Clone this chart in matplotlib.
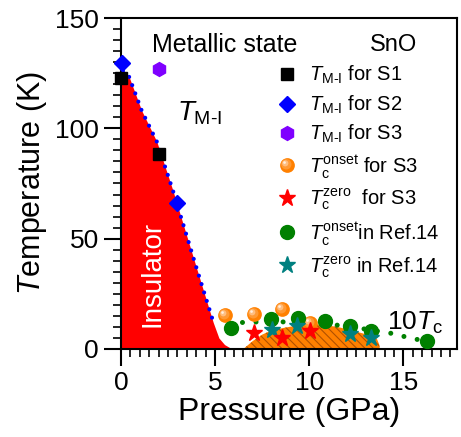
import matplotlib

matplotlib.use("Agg")
import matplotlib.pyplot as plt
from matplotlib.markers import MarkerStyle
from matplotlib.transforms import Affine2D
from matplotlib.legend_handler import HandlerTuple

plt.rcParams["font.family"] = ["Liberation Sans", "DejaVu Sans"]
plt.rcParams["mathtext.fontset"] = "custom"
plt.rcParams["mathtext.rm"] = "Liberation Sans"
plt.rcParams["mathtext.it"] = "Liberation Sans:italic"
plt.rcParams["hatch.linewidth"] = 0.8

# T_M-I (metal-insulator) points
s1_p = [0.0, 2.0]
s1_t = [122.6, 88.5]
s2_p = [0.04, 3.0]
s2_t = [129.7, 66.2]
s3_p = [2.0]
s3_t = [126.7]

# superconducting Tc points
onset_s3_p = [5.53, 7.04, 8.55, 10.05]
onset_s3_t = [15.5, 16.0, 18.0, 12.0]
zero_s3_p = [7.04, 8.55, 10.05]
zero_s3_t = [7.4, 5.1, 8.2]
onset_ref_p = [5.83, 7.96, 9.38, 10.85, 12.18, 13.3, 16.28]
onset_ref_t = [9.5, 13.5, 14.2, 12.7, 10.2, 8.3, 3.6]
zero_ref_p = [8.02, 9.35, 12.18, 13.28]
zero_ref_t = [8.5, 10.5, 7.0, 5.1]

# phase boundaries
ins_p = [0.0, 0.4, 1.1, 1.9, 2.75, 4.0, 4.9, 5.2, 5.5, 5.9]
ins_t = [125, 124, 108, 94, 72, 37, 12, 5, 2, 0]
mi_line_p = [0.1, 0.4, 1.1, 1.9, 2.75, 4.0, 4.95]
mi_line_t = [126, 124, 108, 94, 72, 37, 11]
ref_line_p = [5.8, 6.4, 8.0, 9.95, 11.4, 12.9, 14.25, 15.6, 16.3]
ref_line_t = [9.5, 12.0, 12.5, 11.8, 10.9, 9.1, 7.3, 4.5, 3.6]
dome_p = [6.5, 7.0, 7.5, 8.0, 8.8, 9.5, 10.3, 10.9, 11.65, 12.7, 13.3, 13.6, 13.72, 13.75]
dome_t = [0, 3.6, 6.5, 8.5, 9.8, 10.8, 11.3, 10.8, 9.7, 7.4, 6.0, 4.5, 2.0, 0]

fig = plt.figure(figsize=(4.61, 4.37), dpi=100)
ax = fig.add_axes([0.2625, 0.2014, 0.7288, 0.7574])

ax.fill_between(ins_p, 0, ins_t, color="#FF0000", lw=0, zorder=1)
ax.fill_between(dome_p, 0, dome_t, facecolor="#FF8000", edgecolor="#B05000",
                hatch="\\\\\\\\", lw=0, zorder=1)
ax.plot(mi_line_p, mi_line_t, color="#0000FF", lw=3.0, ls=(0, (0.01, 2.1)),
        dash_capstyle="round", zorder=2)
ax.plot(ref_line_p, ref_line_t, color="#008000", lw=3.6, ls=(0, (0.01, 2.7)),
        dash_capstyle="round", zorder=2)

h1, = ax.plot(s1_p, s1_t, "s", color="black", ms=8.6, ls="none", zorder=5, clip_on=False)
h2, = ax.plot(s2_p, s2_t, "D", color="#0000FF", ms=8.1, ls="none", zorder=5, clip_on=False)
h3, = ax.plot(s3_p, s3_t, "h", color="#7F00FF", ms=10, ls="none", zorder=5)

# orange spheres: base + highlight layers
sphere_layers = [("#FF8000", 1.0, 0.0), ("#FF9A35", 0.7, 0.08),
                 ("#FFBE80", 0.42, 0.15), ("#FFF0E0", 0.18, 0.2)]
h4 = []
for col, sc, off in sphere_layers:
    m = MarkerStyle("o", transform=Affine2D().scale(sc).translate(-off, off))
    hh, = ax.plot(onset_s3_p, onset_s3_t, ls="none", marker=m, ms=10.6,
                  color=col, mew=0, zorder=3)
    h4.append(hh)
h6, = ax.plot(onset_ref_p, onset_ref_t, "o", color="#008000", ms=10, ls="none", zorder=4)
h7, = ax.plot(zero_ref_p, zero_ref_t, "*", color="#008080", ms=12.5, ls="none", zorder=6)
h5, = ax.plot(zero_s3_p, zero_s3_t, "*", color="#FF0000", ms=12.5, ls="none", zorder=7)

ax.set_xlim(0, 17.85)
ax.set_ylim(0, 150)
ax.set_xticks([0, 5, 10, 15])
ax.set_yticks([0, 50, 100, 150])
ax.set_xticks([i * 0.5 for i in range(36)], minor=True)
ax.set_yticks(range(0, 151, 5), minor=True)
ax.tick_params(which="major", direction="out", length=12, width=1.5, labelsize=19, pad=4,
               top=False, right=False)
ax.tick_params(which="minor", direction="out", length=6, width=1.2, top=False, right=False)
for sp in ax.spines.values():
    sp.set_linewidth(1.5)

ax.set_xlabel("Pressure (GPa)", fontsize=23, labelpad=1)
ax.set_ylabel("$T$emperature (K)", fontsize=22, labelpad=4)

ax.text(5.53, 137.7, "Metallic state", fontsize=18, ha="center", va="center")
ax.text(14.47, 137.7, "SnO", fontsize=17, ha="center", va="center")
ax.text(4.2, 107, r"$T_{\mathrm{M\text{-}I}}$", fontsize=20, ha="center", va="center")
ax.text(1.65, 34, "Insulator", fontsize=20, color="white", rotation=90,
        ha="center", va="center")
ax.text(15.6, 11.8, r"10$T_{\mathrm{c}}$", fontsize=19, ha="center", va="center")

handles = [h1, h2, h3, tuple(h4), h5, h6, h7]
labels = [r"$T_{\mathrm{M\text{-}I}}$ for S1",
          r"$T_{\mathrm{M\text{-}I}}$ for S2",
          r"$T_{\mathrm{M\text{-}I}}$ for S3",
          r"$T_{\mathrm{c}}^{\mathrm{onset}}$ for S3",
          r"$T_{\mathrm{c}}^{\mathrm{zero}}$  for S3",
          r"$T_{\mathrm{c}}^{\mathrm{onset}}$in Ref.14",
          r"$T_{\mathrm{c}}^{\mathrm{zero}}$ in Ref.14"]
ax.legend(handles, labels, loc="upper left", bbox_to_anchor=(275 / 461, 1 - 64 / 437),
          bbox_transform=fig.transFigure, frameon=False, fontsize=14.5,
          handlelength=1.2, handletextpad=0.5, labelspacing=0.36, borderpad=0,
          borderaxespad=0, handler_map={tuple: HandlerTuple(ndivide=1, pad=0)})

fig.savefig("out.png", dpi=100)
